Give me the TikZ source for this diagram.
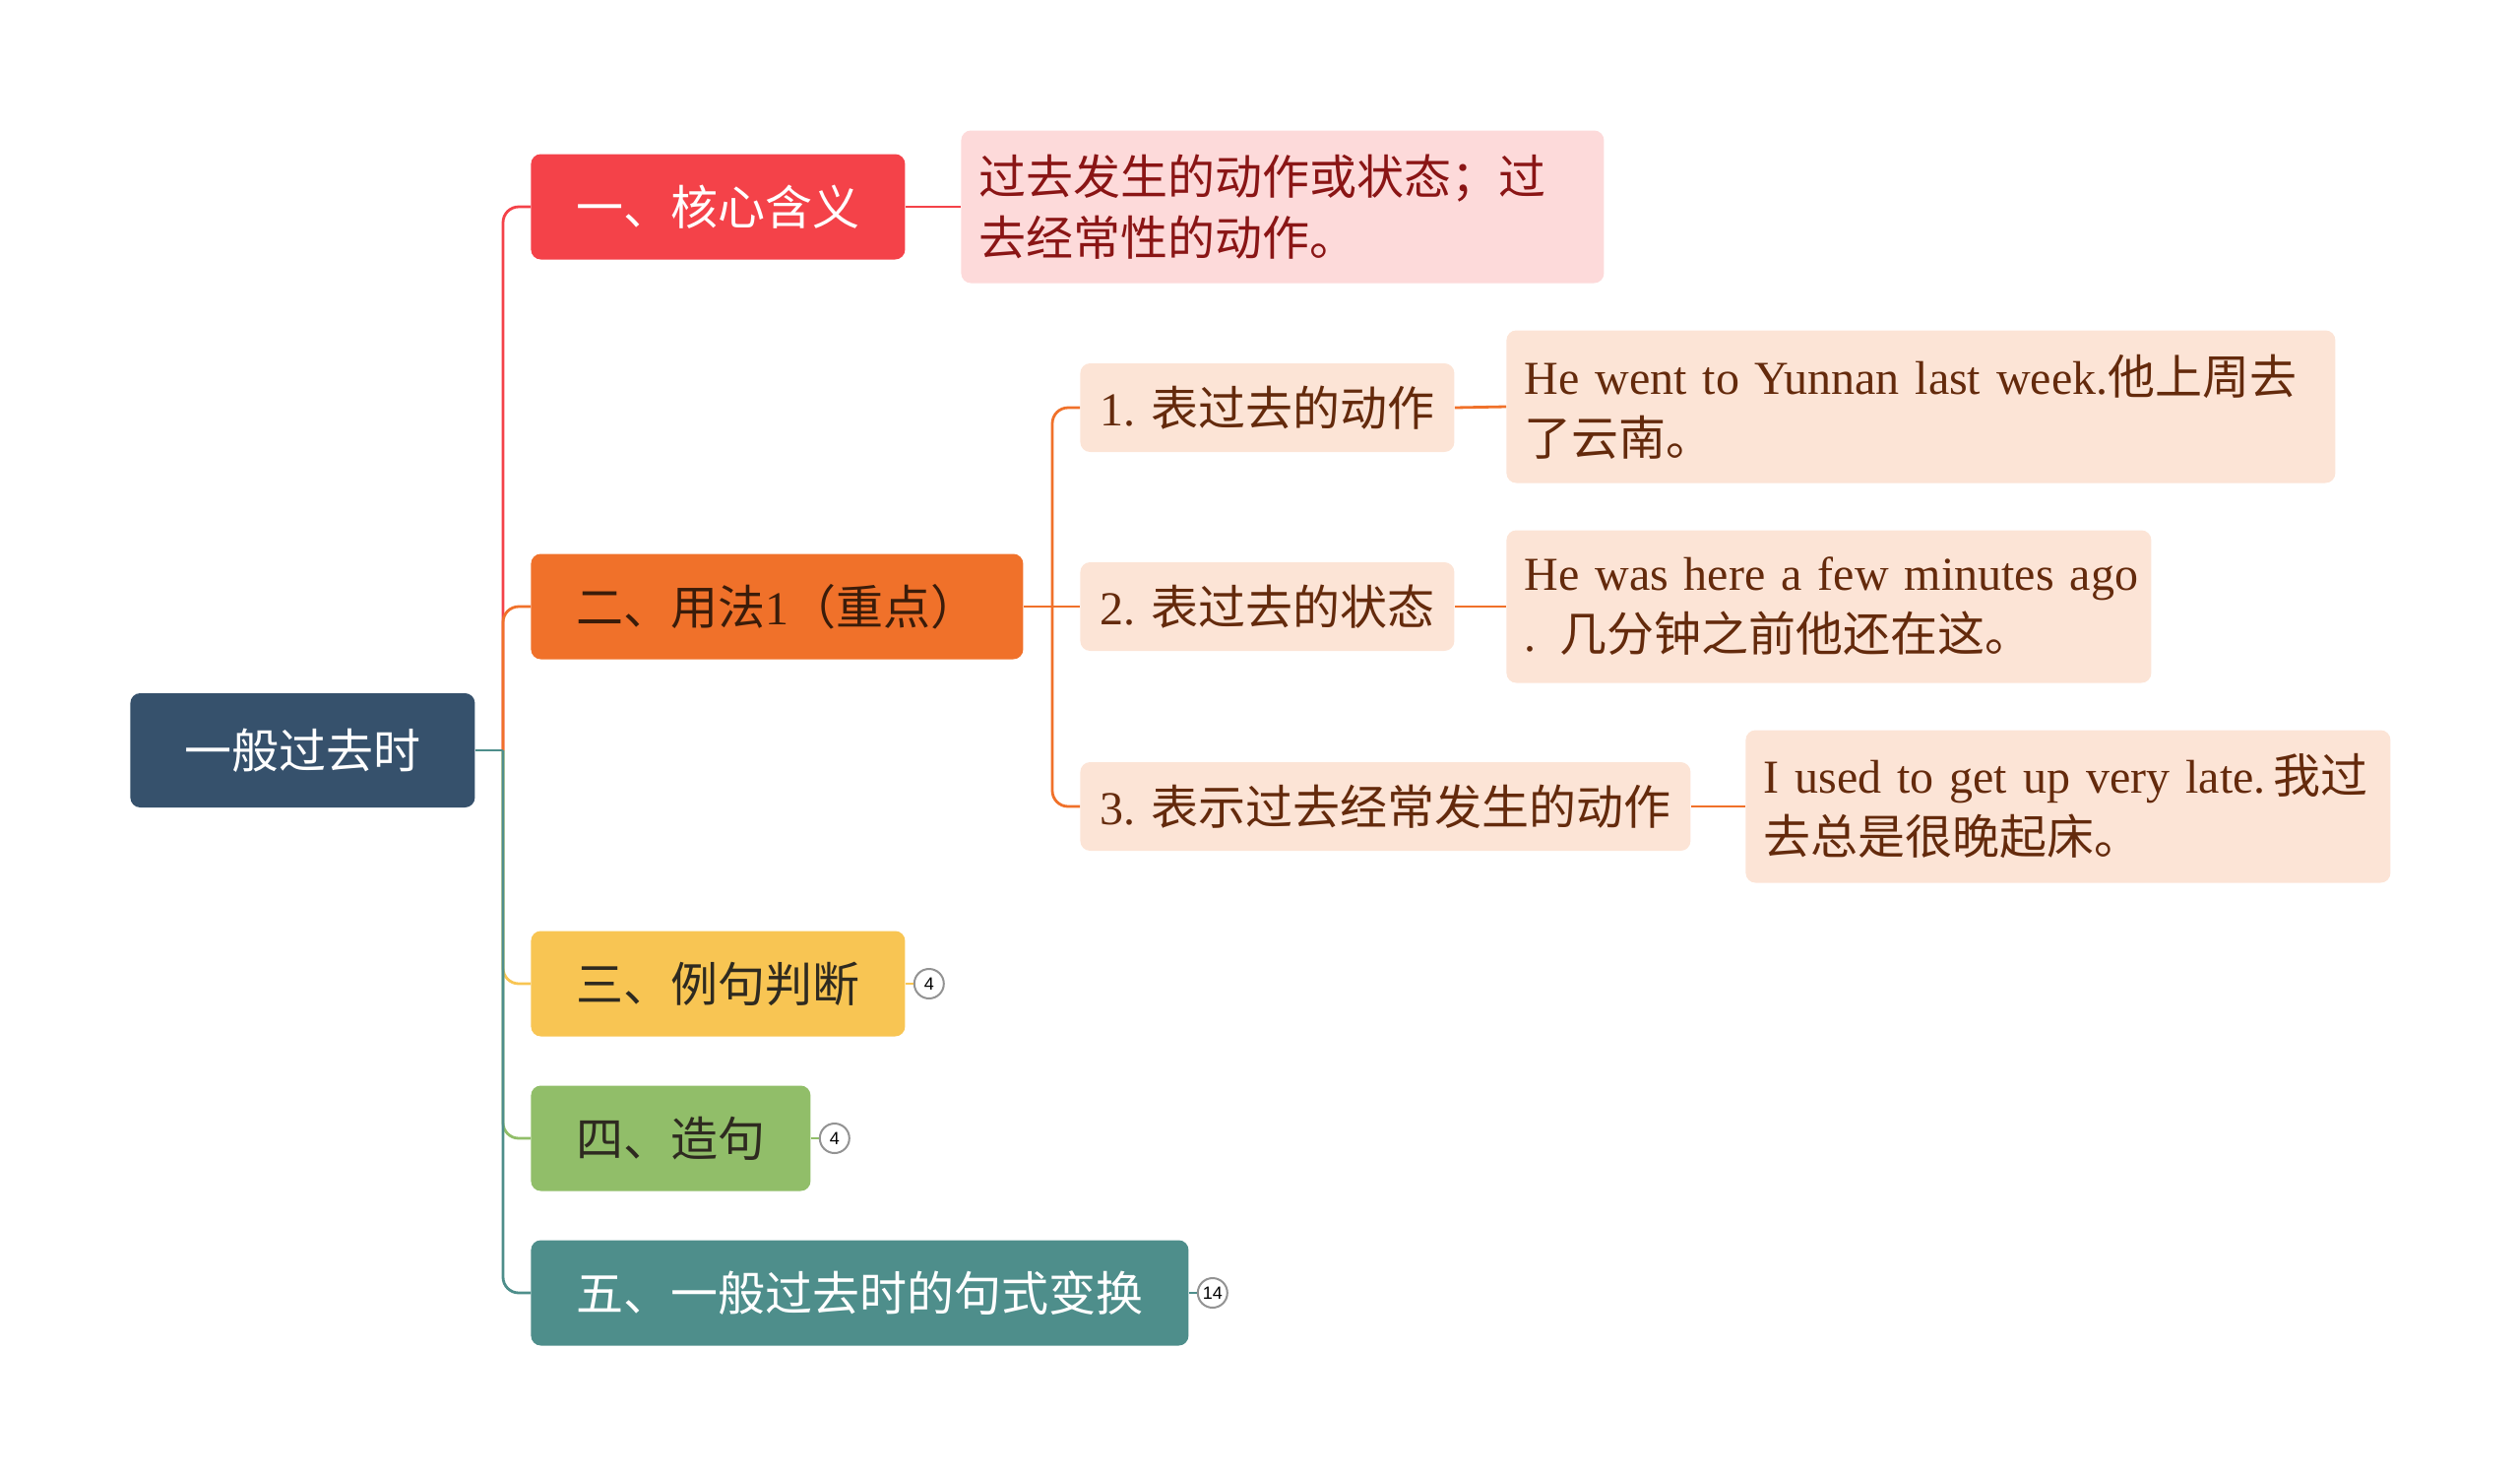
\documentclass[tikz,border=0pt]{standalone}
\usepackage{fontspec}
\setmainfont{Liberation Serif}
\newfontfamily\cjk{Noto Sans CJK SC}
\newfontfamily\numfont{Liberation Sans}
\usepackage{tikz}
\usetikzlibrary{positioning}
\definecolor{rootblue}{HTML}{36516C}
\definecolor{redone}{HTML}{F44249}
\definecolor{orangetwo}{HTML}{F0712A}
\definecolor{yellowthree}{HTML}{F8C553}
\definecolor{greenfour}{HTML}{91BE69}
\definecolor{tealfive}{HTML}{4E8E8B}
\definecolor{pinkfill}{HTML}{FDDADA}
\definecolor{peach}{HTML}{FCE4D6}
\definecolor{darkred}{HTML}{8A1515}
\definecolor{leafbrown}{HTML}{642A0C}
\definecolor{textdark}{HTML}{2E2A20}
\definecolor{orangetext}{HTML}{3A1C0A}

\begin{document}
\begin{tikzpicture}[x=0.5pt, y=-0.5pt,
    every node/.style={font=\fontsize{24pt}{31pt}\selectfont},
    topic/.style={rounded corners=5pt, inner xsep=23pt, minimum height=53.5pt, anchor=west},
    sub/.style={rounded corners=5pt, fill=peach, text=leafbrown, inner xsep=10pt, minimum height=45pt, anchor=west},
    leaf/.style={rounded corners=5pt, align=left, inner xsep=9pt, minimum height=77.5pt, anchor=west},
    count/.style={circle, draw=gray!85, fill=white, line width=1pt, inner sep=0pt, minimum size=15pt, font=\numfont\fontsize{9pt}{9pt}\selectfont},
    link/.style={line width=1.4pt}]
    \useasboundingbox (0,0) rectangle (2560,1500);

    % root and main topics
    \node[fill=rootblue, text=white, rounded corners=5pt, inner xsep=27.5pt, minimum height=58pt, anchor=west] (root) at (132,762) {\cjk 一般过去时};
    \node[topic, fill=redone, text=white] (yi) at (539,210) {\cjk 一、核心含义};
    \node[topic, fill=orangetwo, text=orangetext] (er) at (539,616) {{\cjk 二、用法}1{\cjk （重点）}};
    \node[topic, fill=yellowthree, text=textdark] (san) at (539,999) {\cjk 三、例句判断};
    \node[topic, fill=greenfour, text=textdark] (si) at (539,1156) {\cjk 四、造句};
    \node[topic, fill=tealfive, text=white] (wu) at (539,1313) {\cjk 五、一般过去时的句式变换};

    % details
    \node[leaf, fill=pinkfill, text=darkred, text width=308.5pt] (meaning) at (976,210) {\mbox{\cjk 过去发生的动作或状态；过}\\\mbox{\cjk 去经常性的动作。}};
    \node[sub] (u1) at (1097,414) {1. {\cjk 表过去的动作}};
    \node[sub] (u2) at (1097,616) {2. {\cjk 表过去的状态}};
    \node[sub] (u3) at (1097,819) {3. {\cjk 表示过去经常发生的动作}};
    \node[leaf, fill=peach, text=leafbrown, text width=403pt] (ex1) at (1530,413) {\mbox{He went to Yunnan last week.{\cjk 他上周去}}\\\mbox{\cjk 了云南。}};
    \node[leaf, fill=peach, text=leafbrown, text width=309.5pt] (ex2) at (1530,616) {\mbox{He was here a few minutes ago}\\\mbox{. {\cjk 几分钟之前他还在这。}}};
    \node[leaf, fill=peach, text=leafbrown, text width=309.5pt] (ex3) at (1773,819) {\mbox{I used to get up very late.\,{\cjk 我过}}\\\mbox{\cjk 去总是很晚起床。}};

    % folded counts
    \node[count, right=4pt of san] (c3) {4};
    \node[count, right=4pt of si] (c4) {4};
    \node[count, right=4pt of wu] (c5) {14};

    % connectors
    \coordinate (hub) at (511,762);
    \coordinate (hubtwo) at (1069,616);
    \draw[link, redone, rounded corners=8pt] (hub) |- (yi.west);
    \draw[link, orangetwo, rounded corners=8pt] (hub) |- (er.west);
    \draw[link, yellowthree, rounded corners=8pt] (hub) |- (san.west);
    \draw[link, greenfour, rounded corners=8pt] (hub) |- (si.west);
    \draw[link, tealfive, rounded corners=8pt] (hub) |- (wu.west);
    \draw[link, tealfive] (root.east) -- (hub);
    \draw[link, redone] (yi.east) -- (meaning.west);
    \draw[link, orangetwo] (er.east) -- (hubtwo);
    \draw[link, orangetwo, rounded corners=8pt] (hubtwo) |- (u1.west);
    \draw[link, orangetwo] (hubtwo) -- (u2.west);
    \draw[link, orangetwo, rounded corners=8pt] (hubtwo) |- (u3.west);
    \draw[link, orangetwo] (u1.east) -- (ex1.west);
    \draw[link, orangetwo] (u2.east) -- (ex2.west);
    \draw[link, orangetwo] (u3.east) -- (ex3.west);
    \draw[link, yellowthree] (san.east) -- (c3);
    \draw[link, greenfour] (si.east) -- (c4);
    \draw[link, tealfive] (wu.east) -- (c5);
\end{tikzpicture}
\end{document}
